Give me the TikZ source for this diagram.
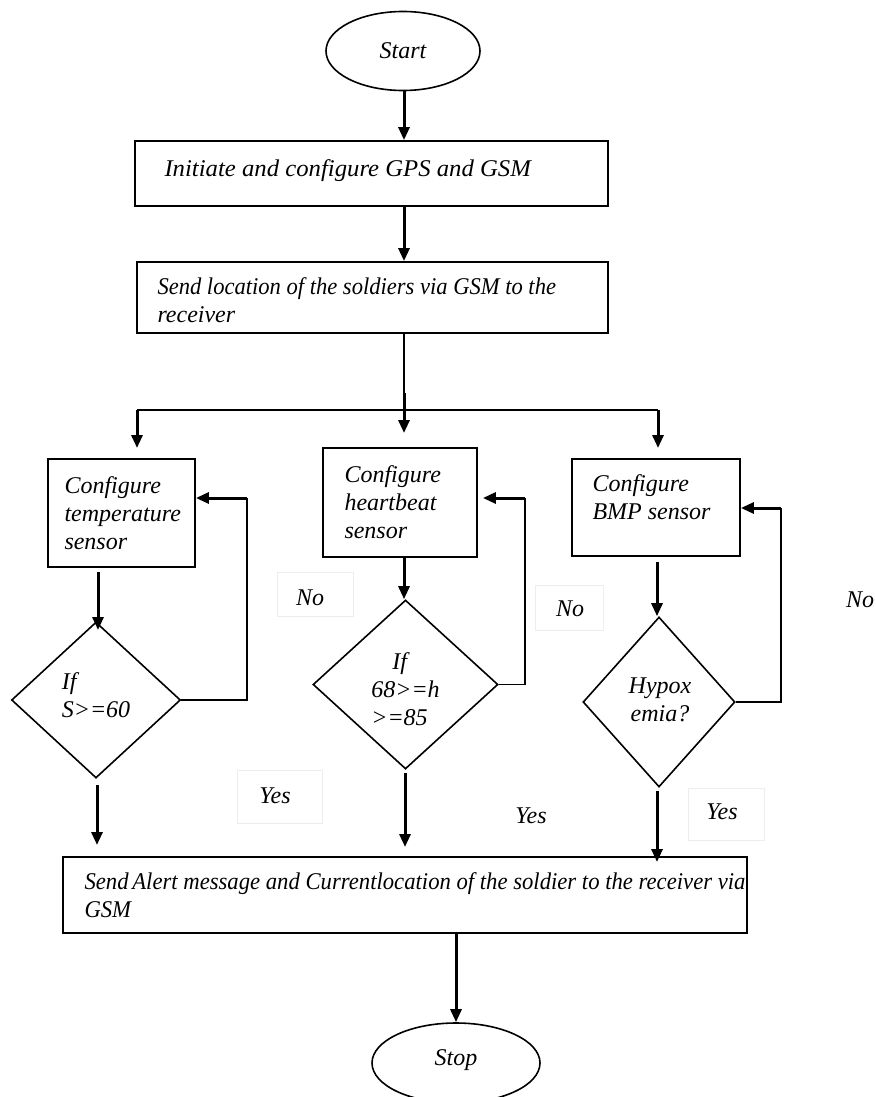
\documentclass[tikz,border=0pt]{standalone}
\usepackage{fontspec}
\setmainfont{Liberation Serif}
\usetikzlibrary{arrows.meta,shapes.geometric,calc}
\tikzset{
  box/.style={draw, rectangle, line width=0.9pt, inner sep=0pt},
  dia/.style={draw, diamond, line width=0.8pt, inner sep=0pt},
  oval/.style={draw, ellipse, line width=0.8pt, inner sep=0pt},
  txt/.style={inner sep=0pt, align=left, font=\fontsize{12}{14}\selectfont\itshape},
  ctxt/.style={inner sep=0pt, align=center, font=\fontsize{12}{14}\selectfont\itshape},
  lab/.style={draw=black!7, line width=0.4pt, inner sep=0pt},
  arr/.style={line width=1.5pt, -{Triangle[length=6.5pt,width=5.5pt]}},
  thickline/.style={line width=1.5pt},
  thinline/.style={line width=0.75pt},
  medline/.style={line width=1pt}
}
\begin{document}
\begin{tikzpicture}[x=0.5pt,y=-0.5pt]
\useasboundingbox (0,0) rectangle (875,1097);
% terminals
\node[oval, minimum width=77pt, minimum height=39.5pt] (start) at (403,51) {};
\node[ctxt] (startt) at (start) {Start};
% box 1
\node[box, minimum width=236.5pt, minimum height=32.5pt] (box1) at (371.5,173.5) {};
\node[txt, anchor=west] (box1t) at ($(box1.west)+(30,-3)$) {\scalebox{1.03}[1]{Initiate and configure GPS and GSM}};
% box 2
\node[box, minimum width=235.5pt, minimum height=35.5pt] (box2) at (372.5,297.5) {};
\node[txt, anchor=west] (box2t) at ($(box2.west)+(21,3)$) {\scalebox{0.94}[1]{Send location of the soldiers via GSM to the}\\receiver};
% sensor boxes
\node[box, minimum width=73.5pt, minimum height=54pt] (temp) at (121.5,513) {};
\node[txt, anchor=west] (tempt) at ($(temp.west)+(17,0)$) {Configure\\temperature\\sensor};
\node[box, minimum width=77pt, minimum height=54.5pt] (heart) at (400,502.5) {};
\node[txt, anchor=west] (heartt) at ($(heart.west)+(22,0)$) {Configure\\heartbeat\\sensor};
\node[box, minimum width=84pt, minimum height=48.5pt] (bmp) at (656,507.5) {};
\node[txt, anchor=west] (bmpt) at ($(bmp.west)+(21,-10)$) {Configure\\BMP sensor};
% diamonds
\node[dia, minimum width=84.5pt, minimum height=78pt] (d1) at (96,700) {};
\node[txt] (d1t) at ($(d1)+(0,-5)$) {If\\S>=60};
\node[dia, minimum width=92.5pt, minimum height=84.5pt] (d2) at (405.5,684.5) {};
\node[txt] (d2t) at ($(d2)+(0,5)$) {\hspace*{10.5pt}If\\68>=h\\>=85};
\node[dia, minimum width=76pt, minimum height=85pt] (d3) at (659,702) {};
\node[ctxt] (d3t) at ($(d3)+(1,-2)$) {Hypox\\emia?};
% bottom box
\node[box, minimum width=342pt, minimum height=38pt] (box3) at (405,895) {};
\node[txt, anchor=west] (box3t) at ($(box3.west)+(22,0)$) {\scalebox{0.945}[1]{Send\,Alert message and Currentlocation of the soldier to the receiver via}\\\scalebox{0.945}[1]{GSM}};
\node[oval, minimum width=84pt, minimum height=40pt] (stop) at (456,1063) {};
\node[ctxt] (stopt) at ($(stop)+(0,-3)$) {Stop};
% labels
\node[lab, minimum width=38pt, minimum height=22pt] (no1b) at (315,594) {};
\node[ctxt] (no1) at (310,598) {No};
\node[lab, minimum width=34pt, minimum height=22.5pt] (no2b) at (569,607.5) {};
\node[ctxt] (no2) at (570,609) {No};
\node[ctxt] (no3) at (860,600) {No};
\node[lab, minimum width=42.5pt, minimum height=26.5pt] (yes1b) at (279.5,796.5) {};
\node[ctxt] (yes1) at (275,796) {Yes};
\node[ctxt] (yes2) at (531,816) {Yes};
\node[lab, minimum width=38pt, minimum height=26pt] (yes3b) at (726,814) {};
\node[ctxt] (yes3) at (722,812) {Yes};
% connectors
\draw[arr] (start.south -| 404,0) -- (404,0 |- box1.north);
\draw[arr] (404,0 |- box1.south) -- (404,0 |- box2.north);
\coordinate (mid) at (404,393);
\coordinate (br) at (404,410);
\coordinate (brL) at (137,410);
\coordinate (brR) at (658,410);
\draw[thinline] (404,0 |- box2.south) -- (mid);
\draw[thickline] (mid) -- (br);
\draw[medline] (brL) -- (brR);
\draw[arr] (brL) -- (137,448);
\draw[arr] (br) -- (404,433);
\draw[arr] (brR) -- (658,448);
% sensor to decision
\draw[arr] (98,0 |- temp.south) ++(0,4) -- (98,630);
\draw[arr] (404,0 |- heart.south) -- (404,0 |- d2.north);
\draw[arr] (657,562) -- (657,0 |- d3.north);
% loops
\draw[thinline] (d1.east) -- (247,0 |- d1.east) -- (247,498);
\draw[arr] (247,498) -- (temp.east |- 0,498);
\draw[thinline] (d2.east) -- (525,0 |- d2.east) -- (525,498);
\draw[arr] (525,498) -- ($(heart.east |- 0,498)+(5,0)$);
\draw[thinline] (d3.east) -- (781,0 |- d3.east) -- (781,508);
\draw[arr] (781,508) -- (bmp.east |- 0,508);
% yes arrows
\draw[arr] ($(d1.south)+(1,6)$) -- (97,845);
\draw[arr] ($(d2.south)+(-0.5,3)$) -- (405,847);
\draw[arr] ($(d3.south)+(-2,3)$) -- (657,862);
\draw[arr] (456,0 |- box3.south) -- (456,0 |- stop.north);
\end{tikzpicture}
\end{document}
